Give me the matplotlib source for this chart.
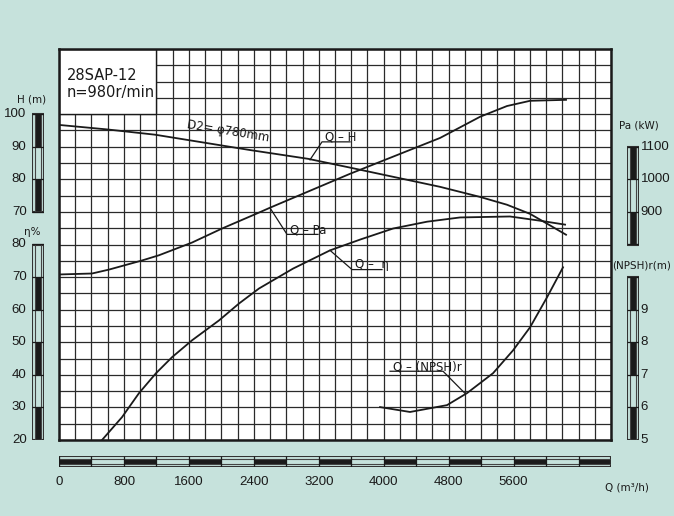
import numpy as np
import matplotlib.pyplot as plt
from matplotlib.patches import Rectangle

# pump curve data (Q in m3/h)
q_head = [0, 600, 1183, 2350, 3068, 3585, 4694, 5187, 5519, 5803, 6012, 6246]
head = [96.7, 95.3, 93.7, 89.0, 86.3, 83.6, 77.7, 74.6, 72.2, 69.4, 66.4, 63.0]

q_power = [0, 407, 616, 1023, 1232, 1639, 2008, 2464, 2600, 3585, 4694, 5187, 5519, 5803, 6246]
power = [708, 711, 723, 751, 767, 806, 849, 898, 913, 1017, 1127, 1192, 1225, 1241, 1244]

q_eff = [530, 776, 986, 1195, 1392, 1639, 1971, 2218, 2464, 2883, 3339, 3708, 4115,
         4534, 4940, 5556, 5926, 6234]
eff = [20, 27.0, 34.4, 40.5, 45.4, 50.6, 56.7, 61.9, 66.5, 72.6, 78.2, 81.5, 84.9,
       87.0, 88.3, 88.6, 87.3, 86.1]

q_npsh = [3955, 4324, 4780, 5027, 5347, 5593, 5803, 6012, 6209]
npsh = [6.01, 5.86, 6.07, 6.44, 7.05, 7.75, 8.46, 9.38, 10.30]

q_labels = [0, 800, 1600, 2400, 3200, 4000, 4800, 5600]
h_labels = [100, 90, 80, 70]
eta_labels = [80, 70, 60, 50, 40, 30, 20]
pa_labels = [1100, 1000, 900]
npsh_labels = [9, 8, 7, 6, 5]

BG = '#c6e2dc'
INK = '#1a1a1a'
W, H = 674, 516

fig = plt.figure(figsize=(W / 100, H / 100), dpi=100, facecolor=BG)
ax = fig.add_axes([59 / W, 1 - 440 / H, 552 / W, 391 / H])
ax.set_facecolor('white')
ax.set_xlim(0, 6800)
ax.set_ylim(0, 120)
ax.set_xticks(np.arange(0, 6801, 200))
ax.set_yticks(np.arange(0, 121, 5))
ax.tick_params(length=0, labelbottom=False, labelleft=False)
ax.grid(True, color='#2a2a2a', lw=0.9)
ax.set_axisbelow(True)
for s in ax.spines.values():
    s.set_linewidth(1.8)
    s.set_color(INK)

# white title box, top left
ax.add_patch(Rectangle((0, 100), 1200, 20, fc='white', ec=INK, lw=1.0, zorder=1))
ax.text(100, 112.0, '28SAP-12', fontsize=10.5, color=INK, va='center', zorder=3)
ax.text(100, 106.8, 'n=980r/min', fontsize=10.5, color=INK, va='center', zorder=3)

# twin axes for each curve
ax_eta = ax.twinx()
ax_pa = ax.twinx()
ax_np = ax.twinx()
ax_eta.set_ylim(20, 140)
ax_pa.set_ylim(200, 1400)
ax_np.set_ylim(5, 17)
for a in (ax_eta, ax_pa, ax_np):
    a.axis('off')

lw = 1.3
ax.plot(q_head, head, color=INK, lw=lw, zorder=4)
ax_pa.plot(q_power, power, color=INK, lw=lw)
ax_eta.plot(q_eff, eff, color=INK, lw=lw)
ax_np.plot(q_npsh, npsh, color=INK, lw=lw)

fs = 8.5
ax.text(2082, 94.6, 'D2= φ780mm', rotation=-9.3, rotation_mode='anchor',
        ha='center', va='center', fontsize=fs, color=INK, zorder=5)


def tag(a, pts, label, start):
    xs, ys = zip(*pts)
    a.plot(xs, ys, color=INK, lw=0.9)
    a.annotate(label, xy=start, xytext=(2, 0.8), textcoords='offset points',
               fontsize=fs, color=INK, ha='left', va='baseline')


tag(ax, [(3092, 86.0), (3240, 91.5), (3585, 91.5)], 'Q – H', (3240, 91.5))
tag(ax_pa, [(2600, 912), (2809, 831), (3191, 831)], 'Q – Pa', (2809, 831))
tag(ax_eta, [(3339, 78.2), (3610, 72.3), (3979, 72.3)], 'Q –  η', (3610, 72.3))
tag(ax_np, [(5002, 6.43), (4731, 7.11), (4078, 7.11)], 'Q – (NPSH)r', (4078, 7.11))

pos = ax.get_position()


def vbar(x_px, ylim, lo, hi, step, ticks, right, title, title_x, title_y):
    b = fig.add_axes([x_px / W, pos.y0, 12 / W, pos.height])
    b.set_xlim(0, 1)
    b.set_ylim(*ylim)
    b.axis('off')
    edges = np.arange(lo, hi + step / 2, step)
    for i, (y0, y1) in enumerate(zip(edges[:-1], edges[1:])):
        if i % 2 == 0:
            b.add_patch(Rectangle((0.22, y0), 0.56, y1 - y0, fc=INK, ec='none'))
    b.add_patch(Rectangle((0, lo), 1, hi - lo, fill=False, ec='#333333', lw=1.5))
    b.vlines([0.22, 0.78], lo, hi, color='#444444', lw=0.8)
    b.hlines(edges, 0, 1, color=INK, lw=0.9)
    for t in ticks:
        if right:
            b.text(1.15, t, str(t), ha='left', va='center', fontsize=9.5,
                   family='Liberation Sans', color=INK)
        else:
            b.text(-0.45, t, str(t), ha='right', va='center', fontsize=9.5,
                   family='Liberation Sans', color=INK)
    b.text(title_x, title_y, title, ha='center', va='center', fontsize=7.5, color=INK)
    return b


vbar(32, (0, 120), 70, 100, 10, h_labels, False, 'H (m)', 0.0, 104.5)
vbar(32, (20, 140), 20, 80, 10, eta_labels, False, 'η%', 0.0, 83.7)
vbar(627, (200, 1400), 800, 1100, 100, pa_labels, True, 'Pa (kW)', 1.0, 1164)
vbar(627, (5, 17), 5, 10, 1, npsh_labels, True, '(NPSH)r(m)', 1.2, 10.36)

# bottom Q scale bar
bb = fig.add_axes([pos.x0, 1 - 467 / H, pos.width, 11 / H])
bb.set_xlim(0, 6800)
bb.set_ylim(0, 1)
bb.axis('off')
seg = np.arange(0, 6801, 400)
for i, (x0, x1) in enumerate(zip(seg[:-1], seg[1:])):
    if i % 2 == 0:
        bb.add_patch(Rectangle((x0, 0.25), x1 - x0, 0.5, fc=INK, ec='none'))
bb.add_patch(Rectangle((0, 0), 6800, 1, fill=False, ec='#333333', lw=1.5))
bb.hlines([0.25, 0.75], 0, 6800, color='#444444', lw=0.8)
bb.vlines(seg, 0, 1, color=INK, lw=0.9)
for q in q_labels:
    bb.text(q, -1.36, str(q), ha='center', va='center', fontsize=9.5,
            family='Liberation Sans', color=INK)
bb.text(7000, -1.9, 'Q (m³/h)', ha='center', va='center', fontsize=7.5, color=INK)

fig.savefig('out.png', dpi=100, facecolor=BG)
